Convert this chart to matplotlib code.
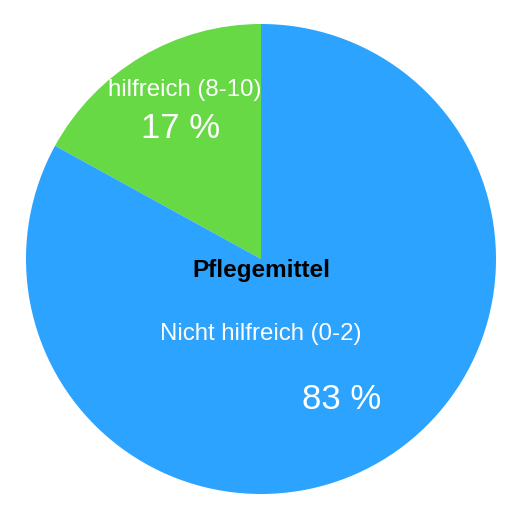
import matplotlib
matplotlib.use("Agg")
import matplotlib.pyplot as plt
import numpy as np

plt.rcParams['font.family'] = ['Liberation Sans', 'DejaVu Sans']

categories = ["hilfreich (8-10)", "Nicht hilfreich (0-2)"]
values = [17, 83]
colors = ['#66d944', '#2ca3ff']
title = "Pflegemittel"

W, H = 521, 515
cx, cy, r = 261, 259, 235

fig = plt.figure(figsize=(W / 100, H / 100), dpi=100)
ax = fig.add_axes([(cx - r) / W, (H - cy - r) / H, 2 * r / W, 2 * r / H])

wedges, _ = ax.pie(values, colors=colors, startangle=90, counterclock=True,
                   wedgeprops=dict(linewidth=0))
ax.set_xlim(-1, 1)
ax.set_ylim(-1, 1)
ax.set_aspect('equal')
ax.axis('off')

# percentages along the middle of each slice
for w, v in zip(wedges, values):
    mid = np.deg2rad((w.theta1 + w.theta2) / 2)
    ax.text(0.67 * np.cos(mid), 0.67 * np.sin(mid) - 0.02, f"{v} %",
            color='white', fontsize=25, ha='center', va='center')

# category labels
ax.text(-0.323, 0.72, categories[0], color='white', fontsize=17.3,
        ha='center', va='center')
ax.text(0, -0.321, categories[1], color='white', fontsize=17.3,
        ha='center', va='center')

ax.text(0, -0.047, title, color='black', fontsize=17.5, fontweight='bold',
        ha='center', va='center')

fig.savefig("out.png", dpi=100)
